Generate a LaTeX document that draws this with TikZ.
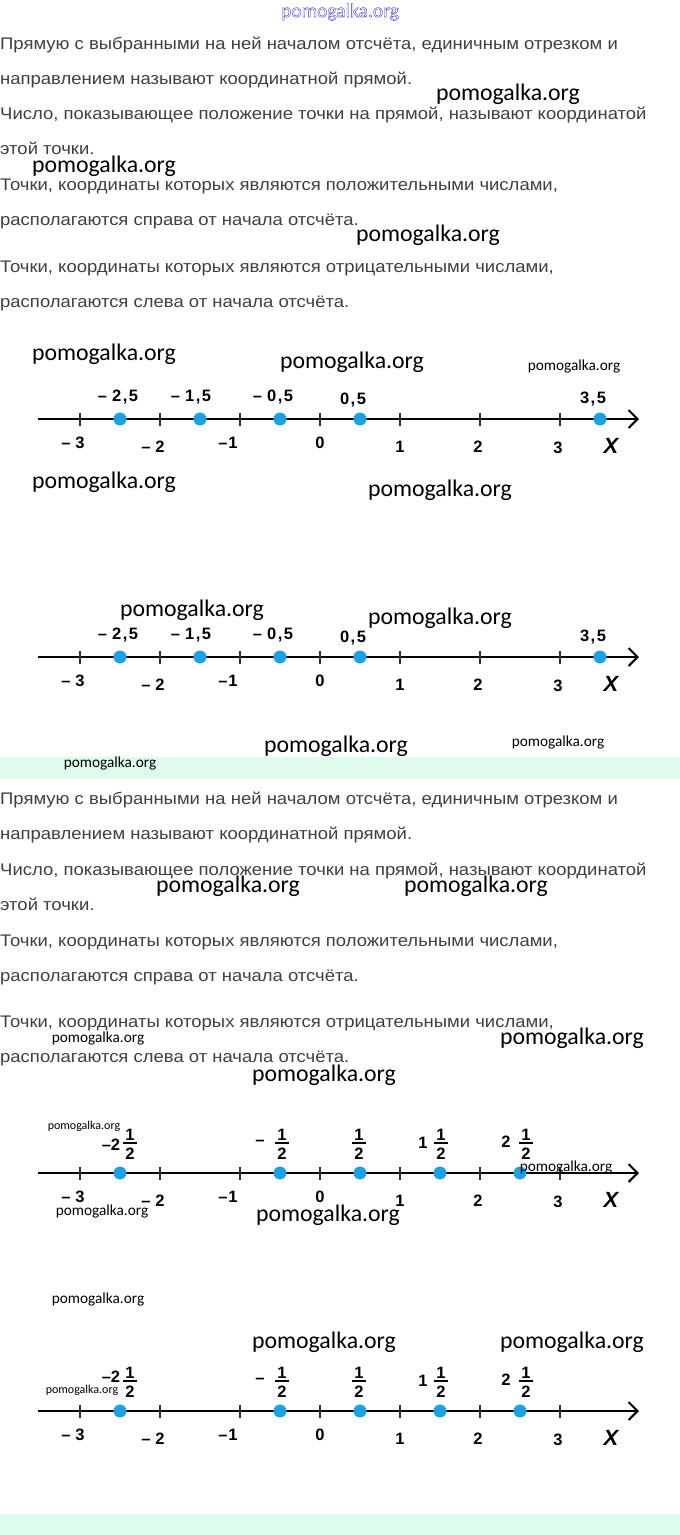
\documentclass[tikz,border=0pt]{standalone}
\usepackage{xcolor}
\usepackage{fontspec}
\setmainfont{Liberation Sans}
\newfontfamily\parafont{Liberation Sans}[FakeStretch=1.1]
\newfontfamily\wmfont{Carlito}
\usetikzlibrary{arrows.meta}

\definecolor{bodygray}{HTML}{3F3F3F}
\definecolor{dotblue}{HTML}{1EA0E6}
\definecolor{mint}{HTML}{DDFCEB}
\definecolor{wmblue}{HTML}{2B2BD9}

\newcommand{\dcm}{\kern1.5pt,\kern1.5pt}

\tikzset{
  para/.style={anchor=base west, inner sep=0pt, text=bodygray, font=\parafont\fontsize{16.8}{19}\selectfont},
  wmbig/.style={inner sep=0pt, font=\wmfont\fontsize{23.8}{26}\selectfont},
  wmsmall/.style={inner sep=0pt, font=\wmfont\fontsize{15.3}{17}\selectfont},
  wmtiny/.style={inner sep=0pt, font=\wmfont\fontsize{12}{14}\selectfont},
  numaxis/.style={line width=2.2pt, -{Straight Barb[length=9pt,width=18pt,line width=2pt]}},
  tickmark/.style={line width=2pt, draw=black!80},
  numlab/.style={inner sep=0pt, font=\bfseries\fontsize{16.5}{18}\selectfont},
  xlab/.style={inner sep=0pt, font=\bfseries\itshape\fontsize{22}{24}\selectfont},
  ptdot/.style={circle, fill=dotblue, inner sep=0pt, minimum size=13pt},
}

% axis with ticks and the integer labels underneath
\newcommand{\numline}[2]{%
  \draw[numaxis] (38,#1) -- (639,#1);
  \foreach \k in {-3,...,3}
    \draw[tickmark] ({320+80*\k},#1-6.5) -- ++(0,13);
  \node[numlab] (#2m3) at (73,#1+24) {–\kern5pt3};
  \node[numlab] (#2m2) at (153,#1+28) {–\kern5pt2};
  \node[numlab] (#2m1) at (228,#1+24) {–\kern1pt1};
  \node[numlab] (#2z) at (320,#1+24) {0};
  \node[numlab] (#2p1) at (400,#1+28) {1};
  \node[numlab] (#2p2) at (478,#1+28) {2};
  \node[numlab] (#2p3) at (558,#1+29) {3};
  \node[xlab] (#2x) at (611,#1+27) {X};
}

% decimal marks above the axis
\newcommand{\decmarks}[2]{%
  \foreach \v [count=\i] in {-2.5,-1.5,-0.5,0.5,3.5}
    \node[ptdot] (#2d\i) at ({320+80*\v},#1) {};
  \node[numlab] (#2a) at (118,#1-22) {–\kern5pt2\dcm5};
  \node[numlab] (#2b) at (191,#1-22) {–\kern5pt1\dcm5};
  \node[numlab] (#2c) at (273,#1-22) {–\kern5pt0\dcm5};
  \node[numlab] (#2e) at (353,#1-19) {0\dcm5};
  \node[numlab] (#2f) at (593,#1-20) {3\dcm5};
}

% one half-fraction: x, axis y, prefix, prefix x, name
\newcommand{\halfmark}[6]{%
  \node[numlab] (#5n) at (#1,#2-38) {1};
  \draw[line width=1.3pt] (#1-7,#2-30) -- (#1+7,#2-30);
  \node[numlab] (#5d) at (#1,#2-19) {2};
  \node[numlab] (#5p) at (#4,#2-#6) {#3};
}

\newcommand{\fracmarks}[3]{%
  \foreach \v [count=\i] in {-2.5,-0.5,0.5,1.5,2.5}
    \node[ptdot] (#2d\i) at ({320+80*\v},#1) {};
  \halfmark{130}{#1}{–2}{111}{#2a}{#3}
  \halfmark{282}{#1}{–}{260}{#2b}{30}
  \halfmark{359}{#1}{}{345}{#2c}{30}
  \halfmark{441}{#1}{1}{423}{#2e}{30}
  \halfmark{526}{#1}{2}{506}{#2f}{31}
}

\begin{document}
\begin{tikzpicture}[x=1pt,y=-1pt]
    \useasboundingbox (0,0) rectangle (680,1535);

    % mint bands
    \fill[mint] (0,757) rectangle (680,779);
    \fill[mint] (0,1514) rectangle (680,1535);

    % first text block
    \node[para] (ta1) at (0,49) {Прямую с выбранными на ней началом отсчёта, единичным отрезком и};
    \node[para] (ta2) at (0,84) {направлением называют координатной прямой.};
    \node[para] (ta3) at (0,119) {Число, показывающее положение точки на прямой, называют координатой};
    \node[para] (ta4) at (0,154) {этой точки.};
    \node[para] (ta5) at (0,190) {Точки, координаты которых являются положительными числами,};
    \node[para] (ta6) at (0,225) {располагаются справа от начала отсчёта.};
    \node[para] (ta7) at (0,272) {Точки, координаты которых являются отрицательными числами,};
    \node[para] (ta8) at (0,307) {располагаются слева от начала отсчёта.};

    % decimal number lines
    \numline{419}{la}
    \decmarks{419}{la}
    \numline{657}{lb}
    \decmarks{657}{lb}

    % second text block
    \node[para] (tb1) at (0,804) {Прямую с выбранными на ней началом отсчёта, единичным отрезком и};
    \node[para] (tb2) at (0,839) {направлением называют координатной прямой.};
    \node[para] (tb3) at (0,875) {Число, показывающее положение точки на прямой, называют координатой};
    \node[para] (tb4) at (0,910) {этой точки.};
    \node[para] (tb5) at (0,946) {Точки, координаты которых являются положительными числами,};
    \node[para] (tb6) at (0,981) {располагаются справа от начала отсчёта.};
    \node[para] (tb7) at (0,1027) {Точки, координаты которых являются отрицательными числами,};
    \node[para] (tb8) at (0,1062) {располагаются слева от начала отсчёта.};

    % fraction number lines
    \numline{1173}{lc}
    \fracmarks{1173}{lc}{28}
    \numline{1411}{ld}
    \fracmarks{1411}{ld}{34}

    % watermarks
    \node[inner sep=0pt, text=wmblue, font=\wmfont\fontsize{19.5}{21}\selectfont] (wmtop) at (340,12)
      {\special{pdf:literal direct 1 Tr 0.35 w}pomogalka.org\special{pdf:literal direct 0 Tr}};
    \foreach \p/\q [count=\i] in {508/94, 104/166, 428/235, 104/354, 352/362, 104/482,
        440/490, 192/610, 440/618, 336/746, 228/886, 476/886, 572/1038, 324/1075,
        328/1215, 324/1342, 572/1342}
      \node[wmbig] (wmb\i) at (\p,\q) {pomogalka.org};
    \foreach \p/\q [count=\i] in {574/366, 558/742, 110/763, 98/1038, 566/1167,
        102/1211, 98/1299}
      \node[wmsmall] (wms\i) at (\p,\q) {pomogalka.org};
    \node[wmtiny] (wmt1) at (84,1126) {pomogalka.org};
    \node[wmtiny] (wmt2) at (82,1390) {pomogalka.org};
\end{tikzpicture}
\end{document}
